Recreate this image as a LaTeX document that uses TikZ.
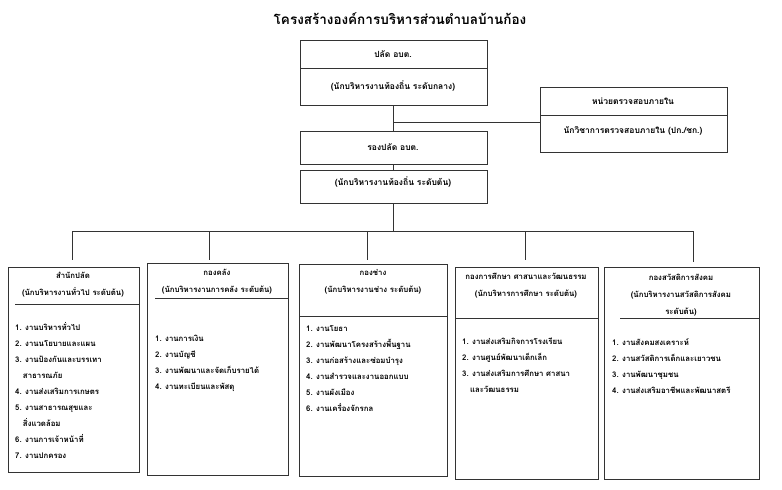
\documentclass[tikz,border=0pt]{standalone}
\usepackage{fontspec}
\setmainfont[Script=Thai]{Loma}
\usetikzlibrary{positioning}
\tikzset{%
  % Specifications for style of nodes:
  base/.style = {rectangle, draw=black!80, line width=0.6pt, inner sep=0pt},
  unit/.style = {base, anchor=north west},
  txt/.style  = {font=\fontsize{8.5}{10}\selectfont\bfseries, inner sep=0pt},
  lst/.style  = {font=\fontsize{7.8}{16}\selectfont\bfseries, align=left, anchor=north west, inner sep=0pt},
  hd/.style   = {font=\fontsize{7.8}{17}\selectfont\bfseries, align=center, inner sep=0pt},
  link/.style = {draw=black!80, line width=0.6pt},
}
\begin{document}
\begin{tikzpicture}[x=1pt, y=-1pt]
  \useasboundingbox (0,0) rectangle (782,490);

  \node (title) [font=\fontsize{13.5}{15}\selectfont\bfseries] at (400,19) {โครงสร้างองค์การบริหารส่วนตำบลบ้านก้อง};

  % Specification of top nodes
  \node (onPalat)  [unit, minimum width=187pt, minimum height=65pt] at (300,40) {};
  \node (onAudit)  [unit, minimum width=187pt, minimum height=65pt] at (540,87) {};
  \node (onRong)   [unit, minimum width=187pt, minimum height=33pt] at (300,131) {};
  \node (onRongB)  [unit, minimum width=187pt, minimum height=33pt] at (300,170) {};
  \draw[link] (300,68) -- (487,68);
  \draw[link] (540,115) -- (727,115);
  \node [txt] at (393,54) {ปลัด อบต.};
  \node [txt] at (393,86) {(นักบริหารงานท้องถิ่น ระดับกลาง)};
  \node [txt] at (633,101) {หน่วยตรวจสอบภายใน};
  \node [txt] at (633,131) {นักวิชาการตรวจสอบภายใน (ปก./ชก.)};
  \node [txt] at (393,147) {รองปลัด อบต.};
  \node [txt] at (393,182) {(นักบริหารงานท้องถิ่น ระดับต้น)};

  % Specification of division nodes
  \node (onSam)  [unit, minimum width=131pt, minimum height=205pt] at (8,267) {};
  \node (onKlang)[unit, minimum width=141pt, minimum height=212pt] at (147,263) {};
  \node (onChang)[unit, minimum width=148pt, minimum height=212pt] at (299,264) {};
  \node (onSuksa)[unit, minimum width=143pt, minimum height=212pt] at (455,267) {};
  \node (onSawat)[unit, minimum width=155pt, minimum height=212pt] at (604,267) {};
  \draw[link] (15,304) -- (139,304);
  \draw[link] (155,298) -- (288,298);
  \draw[link] (299,316) -- (447,316);
  \draw[link] (455,318) -- (598,318);
  \draw[link] (620,318) -- (759,318);

  \node [hd] at (73,285) {สำนักปลัด\\(นักบริหารงานทั่วไป ระดับต้น)};
  \node [hd] at (217,282) {กองคลัง\\(นักบริหารงานการคลัง ระดับต้น)};
  \node [hd] at (373,282) {กองช่าง\\(นักบริหารงานช่าง ระดับต้น)};
  \node [hd] at (526,286) {กองการศึกษา ศาสนาและวัฒนธรรม\\(นักบริหารการศึกษา ระดับต้น)};
  \node [hd] at (681,295) {กองสวัสดิการสังคม\\(นักบริหารงานสวัสดิการสังคม\\ระดับต้น)};

  \node [lst] at (15,322) {1. งานบริหารทั่วไป\\2. งานนโยบายและแผน\\3. งานป้องกันและบรรเทา\\\quad สาธารณภัย\\4. งานส่งเสริมการเกษตร\\5. งานสาธารณสุขและ\\\quad สิ่งแวดล้อม\\6. งานการเจ้าหน้าที่\\7. งานปกครอง};
  \node [lst] at (155,335) {1. งานการเงิน\\2. งานบัญชี\\3. งานพัฒนาและจัดเก็บรายได้\\4. งานทะเบียนและพัสดุ};
  \node [lst] at (306,325) {1. งานโยธา\\2. งานพัฒนาโครงสร้างพื้นฐาน\\3. งานก่อสร้างและซ่อมบำรุง\\4. งานสำรวจและงานออกแบบ\\5. งานผังเมือง\\6. งานเครื่องจักรกล};
  \node [lst] at (462,338) {1. งานส่งเสริมกิจการโรงเรียน\\2. งานศูนย์พัฒนาเด็กเล็ก\\3. งานส่งเสริมการศึกษา ศาสนา\\\quad และวัฒนธรรม};
  \node [lst] at (612,338) {1. งานสังคมสงเคราะห์\\2. งานสวัสดิการเด็กและเยาวชน\\3. งานพัฒนาชุมชน\\4. งานส่งเสริมอาชีพและพัฒนาสตรี};

  % Specification of lines between nodes
  \coordinate (busL) at (72,231);
  \coordinate (busR) at (693,231);
  \coordinate (auditJ) at (393,122);
  \coordinate (busM) at (393,231);
  \draw[link] (onPalat.south -| busM) -- (onRong.north -| busM);
  \draw[link] (auditJ) -- (onAudit.west |- auditJ);
  \draw[link] (onRong.south -| busM) -- (onRongB.north -| busM);
  \draw[link] (onRongB.south -| busM) -- (busM);
  \draw[link] (busL) -- (busR);
  \foreach \x/\y in {72/260, 209/260, 367/260, 525/260, 693/262}
    \draw[link] (\x,231) -- (\x,\y);
\end{tikzpicture}
\end{document}
